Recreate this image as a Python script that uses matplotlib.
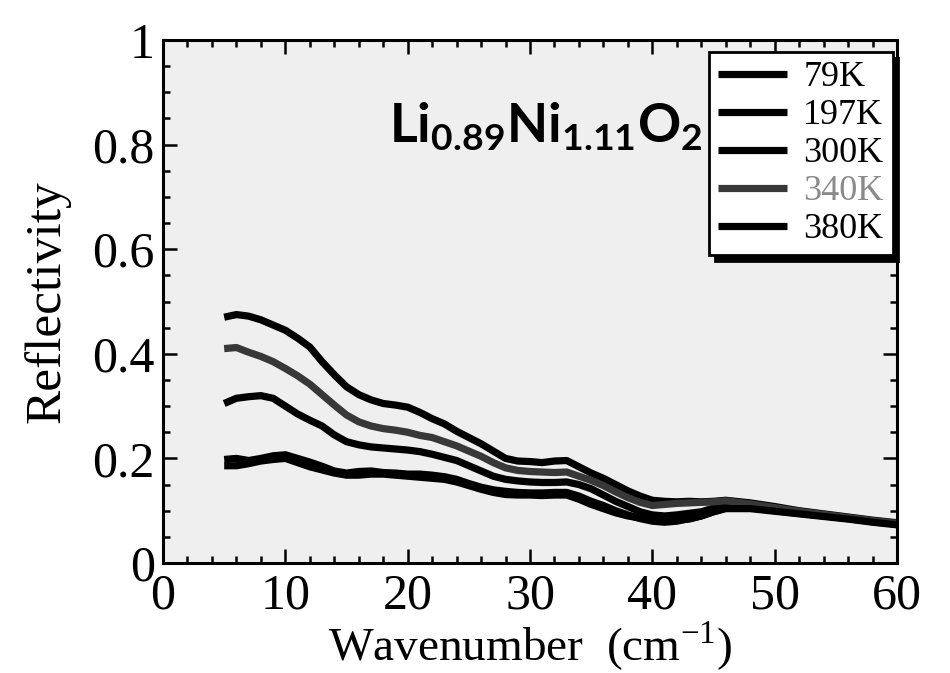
import matplotlib
matplotlib.use("Agg")
import matplotlib.pyplot as plt
from matplotlib.ticker import MultipleLocator

plt.rcParams['font.family'] = ['Liberation Serif', 'DejaVu Serif']
plt.rcParams['mathtext.fontset'] = 'custom'
plt.rcParams['mathtext.rm'] = 'Liberation Serif'
plt.rcParams['mathtext.bf'] = 'Lato:bold'

# wavenumber grid (cm^-1)
wavenumber = [5, 6, 7, 8, 9, 10, 11, 12, 13, 14, 15, 16, 17, 18, 19, 20, 21, 22, 23, 24, 25,
              26, 27, 28, 29, 30, 31, 32, 33, 34, 35, 36, 37, 38, 39, 40, 41, 42, 43, 44,
              45, 46, 48, 50, 52, 54, 56, 58, 60]

r_79k = [0.470, 0.475, 0.472, 0.465, 0.455, 0.445, 0.430, 0.413, 0.385, 0.360, 0.337,
         0.322, 0.312, 0.305, 0.302, 0.298, 0.288, 0.276, 0.266, 0.252, 0.240, 0.228,
         0.214, 0.200, 0.195, 0.194, 0.192, 0.195, 0.196, 0.184, 0.172, 0.162, 0.150,
         0.138, 0.128, 0.120, 0.118, 0.117, 0.118, 0.117, 0.118, 0.120, 0.115, 0.108,
         0.100, 0.094, 0.088, 0.082, 0.077]
r_340k = [0.410, 0.412, 0.403, 0.395, 0.385, 0.372, 0.358, 0.342, 0.322, 0.302, 0.283,
          0.270, 0.262, 0.257, 0.254, 0.250, 0.244, 0.240, 0.232, 0.224, 0.214, 0.204,
          0.192, 0.182, 0.177, 0.175, 0.174, 0.173, 0.174, 0.166, 0.158, 0.148, 0.136,
          0.125, 0.116, 0.110, 0.112, 0.114, 0.115, 0.116, 0.117, 0.119, 0.113, 0.106,
          0.099, 0.093, 0.087, 0.081, 0.076]
r_300k = [0.305, 0.315, 0.318, 0.320, 0.315, 0.300, 0.285, 0.273, 0.262, 0.245, 0.232,
          0.226, 0.222, 0.220, 0.218, 0.216, 0.213, 0.208, 0.202, 0.196, 0.186, 0.176,
          0.166, 0.160, 0.157, 0.155, 0.154, 0.154, 0.155, 0.150, 0.142, 0.130, 0.118,
          0.108, 0.098, 0.092, 0.090, 0.092, 0.095, 0.098, 0.105, 0.112, 0.110, 0.104,
          0.097, 0.091, 0.086, 0.080, 0.075]
r_197k = [0.198, 0.200, 0.196, 0.200, 0.205, 0.207, 0.200, 0.193, 0.185, 0.176, 0.172,
          0.175, 0.176, 0.173, 0.172, 0.170, 0.170, 0.168, 0.165, 0.160, 0.152, 0.145,
          0.140, 0.137, 0.135, 0.134, 0.134, 0.135, 0.135, 0.128, 0.118, 0.110, 0.100,
          0.092, 0.085, 0.080, 0.078, 0.080, 0.085, 0.090, 0.098, 0.105, 0.106, 0.100,
          0.095, 0.090, 0.085, 0.079, 0.074]
r_380k = [0.186, 0.186, 0.190, 0.195, 0.198, 0.200, 0.192, 0.184, 0.178, 0.172, 0.168,
          0.168, 0.170, 0.170, 0.168, 0.166, 0.164, 0.162, 0.160, 0.155, 0.148, 0.141,
          0.135, 0.131, 0.130, 0.130, 0.129, 0.130, 0.130, 0.122, 0.112, 0.104, 0.096,
          0.090, 0.086, 0.084, 0.083, 0.082, 0.084, 0.090, 0.098, 0.104, 0.104, 0.099,
          0.094, 0.089, 0.084, 0.078, 0.073]

labels = ['79K', '197K', '300K', '340K', '380K']
series = [r_79k, r_197k, r_300k, r_340k, r_380k]
colors = ['black', 'black', 'black', '#383838', 'black']

fig = plt.figure(figsize=(9.5, 6.73), dpi=100)
ax = fig.add_axes([0.1716, 0.1634, 0.7726, 0.7772])
ax.set_facecolor('#efefef')

for lab, r, c in zip(labels, series, colors):
    ax.plot(wavenumber, r, color=c, lw=5.2, label=lab, solid_capstyle='butt')

ax.set_xlim(0, 60)
ax.set_ylim(0, 1)
ax.xaxis.set_major_locator(MultipleLocator(10))
ax.xaxis.set_minor_locator(MultipleLocator(2))
ax.yaxis.set_minor_locator(MultipleLocator(0.05))
ax.set_yticks([0, 0.2, 0.4, 0.6, 0.8, 1.0])
ax.set_yticklabels(['0', '0.2', '0.4', '0.6', '0.8', '1'])
ax.tick_params(which='both', direction='in', top=True, right=True, width=1.8)
ax.tick_params(which='major', length=10, labelsize=36)
ax.tick_params(which='minor', length=5)
ax.tick_params(axis='x', which='major', pad=7)
ax.tick_params(axis='y', which='major', pad=6)
for sp in ax.spines.values():
    sp.set_linewidth(2.2)

ax.set_xlabel('Wavenumber  (cm$^{\\mathrm{-1}}$)', fontsize=34, labelpad=0)
ax.set_ylabel('Reflectivity', fontsize=37, labelpad=16)

ax.text(0.308, 0.803, r'$\mathbf{Li_{0.89}Ni_{1.11}O_2}$', transform=ax.transAxes,
        fontsize=38.5, ha='left', va='baseline')

leg = ax.legend(loc='upper right', bbox_to_anchor=(0.994, 0.977), borderaxespad=0,
                fontsize=26, handlelength=1.9, handletextpad=0.45, labelspacing=0.13,
                borderpad=0.25, fancybox=False, framealpha=1, edgecolor='black',
                shadow={'ox': 4, 'oy': -4, 'color': 'black', 'alpha': 1})
leg.get_frame().set_linewidth(2)
for t, c in zip(leg.get_texts(), colors):
    if c != 'black':
        t.set_color('#8a8a8a')

fig.savefig('out.png', dpi=100)
